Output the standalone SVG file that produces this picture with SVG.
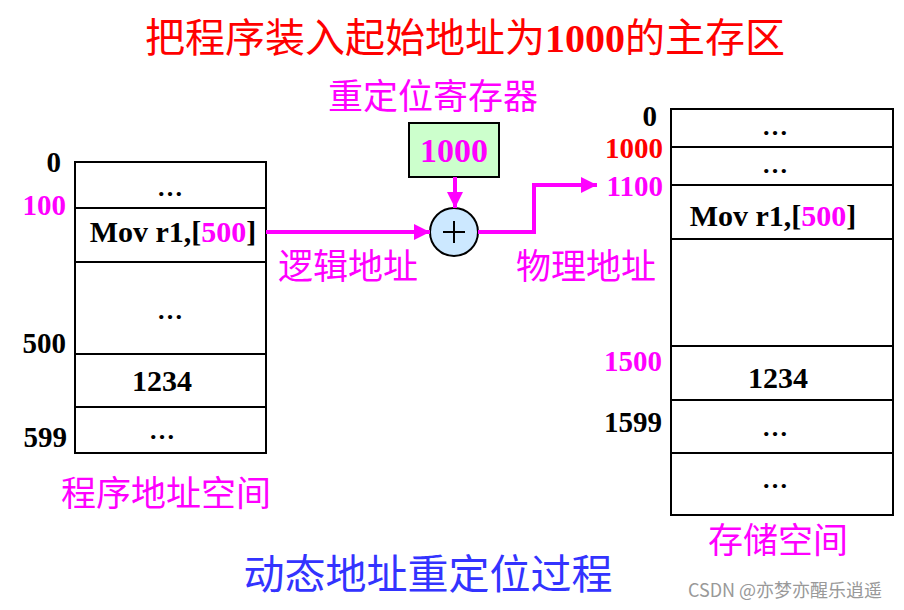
<svg xmlns="http://www.w3.org/2000/svg" width="904" height="610" viewBox="0 0 904 610">
<style>
.cjk{font-family:"Noto Sans CJK SC","Noto Sans CJK JP",sans-serif}
.num{font-family:"Liberation Serif","Times New Roman",serif;font-weight:bold}
.box{fill:#fff;stroke:#000;stroke-width:2}
.ln{stroke:#000;stroke-width:2}
.mg{fill:#ff00ff}
.blk{fill:#000}
.conn{fill:none;stroke:#ff00ff;stroke-width:4}
</style>
<defs>
<marker id="ah" viewBox="0 0 10 10" refX="10" refY="5" markerWidth="4" markerHeight="4" markerUnits="strokeWidth" orient="auto">
<path d="M0,0 L10,5 L0,10 z" fill="#ff00ff"/>
</marker>
</defs>
<rect width="904" height="610" fill="#fff"/>
<text x="465" y="52" text-anchor="middle" font-size="40" fill="#ff0000" class="cjk">把程序装入起始地址为<tspan class="num" font-size="40">1000</tspan>的主存区</text>

<g id="program-space">
<rect class="box" x="75" y="162" width="191" height="291"/>
<line class="ln" x1="75" y1="208" x2="266" y2="208"/>
<line class="ln" x1="75" y1="262" x2="266" y2="262"/>
<line class="ln" x1="75" y1="354" x2="266" y2="354"/>
<line class="ln" x1="75" y1="407" x2="266" y2="407"/>
<text class="num blk" x="170" y="196" text-anchor="middle" font-size="26">…</text>
<text class="num blk" x="173" y="242" text-anchor="middle" font-size="30">Mov r1,[<tspan class="mg">500</tspan>]</text>
<text class="num blk" x="170" y="319" text-anchor="middle" font-size="26">…</text>
<text class="num blk" x="162" y="391" text-anchor="middle" font-size="30">1234</text>
<text class="num blk" x="162" y="439" text-anchor="middle" font-size="26">…</text>
<text class="num blk" x="61" y="172" text-anchor="end" font-size="29">0</text>
<text class="num mg" x="66" y="215" text-anchor="end" font-size="29">100</text>
<text class="num blk" x="66" y="353" text-anchor="end" font-size="29">500</text>
<text class="num blk" x="67" y="447" text-anchor="end" font-size="29">599</text>
<text class="cjk mg" x="166" y="506" text-anchor="middle" font-size="35">程序地址空间</text>
</g>

<g id="relocation-register">
<text class="cjk mg" x="433" y="109" text-anchor="middle" font-size="35">重定位寄存器</text>
<rect x="409" y="123" width="90" height="54" fill="#ccffcc" stroke="#000" stroke-width="2"/>
<text class="num mg" x="454" y="162" text-anchor="middle" font-size="34">1000</text>
</g>

<g id="adder">
<circle cx="454" cy="232" r="24" fill="#cce8ff" stroke="#000" stroke-width="2"/>
<path d="M443,232 H465 M454,221 V243" stroke="#000" stroke-width="2"/>
</g>

<g id="connectors">
<line class="conn" x1="266" y1="232" x2="430" y2="232" marker-end="url(#ah)"/>
<line class="conn" x1="455" y1="177" x2="455" y2="208" marker-end="url(#ah)"/>
<polyline class="conn" points="478,232 534,232 534,185 597,185" marker-end="url(#ah)"/>
</g>

<text class="cjk mg" x="348" y="279" text-anchor="middle" font-size="35">逻辑地址</text>
<text class="cjk mg" x="586" y="279" text-anchor="middle" font-size="35">物理地址</text>

<g id="memory-space">
<rect class="box" x="671" y="109" width="222" height="406"/>
<line class="ln" x1="671" y1="147" x2="893" y2="147"/>
<line class="ln" x1="671" y1="185" x2="893" y2="185"/>
<line class="ln" x1="671" y1="239" x2="893" y2="239"/>
<line class="ln" x1="671" y1="346" x2="893" y2="346"/>
<line class="ln" x1="671" y1="400" x2="893" y2="400"/>
<line class="ln" x1="671" y1="453" x2="893" y2="453"/>
<text class="num blk" x="775" y="135" text-anchor="middle" font-size="26">…</text>
<text class="num blk" x="775" y="173" text-anchor="middle" font-size="26">…</text>
<text class="num blk" x="773" y="226" text-anchor="middle" font-size="30">Mov r1,[<tspan class="mg">500</tspan>]</text>
<text class="num blk" x="778" y="388" text-anchor="middle" font-size="30">1234</text>
<text class="num blk" x="775" y="436" text-anchor="middle" font-size="26">…</text>
<text class="num blk" x="775" y="488" text-anchor="middle" font-size="26">…</text>
<text class="num blk" x="657" y="126" text-anchor="end" font-size="29">0</text>
<text class="num" fill="#ff0000" x="663" y="158" text-anchor="end" font-size="29">1000</text>
<text class="num mg" x="663" y="196" text-anchor="end" font-size="29">1100</text>
<text class="num mg" x="662" y="371" text-anchor="end" font-size="29">1500</text>
<text class="num blk" x="662" y="432" text-anchor="end" font-size="29">1599</text>
<text class="cjk mg" x="778" y="553" text-anchor="middle" font-size="35">存储空间</text>
</g>

<text class="cjk" x="428" y="589" text-anchor="middle" font-size="41" fill="#3333ff">动态地址重定位过程</text>
<text x="785" y="597" text-anchor="middle" font-size="18" fill="#999" font-family="'Noto Sans CJK SC',sans-serif">CSDN @亦梦亦醒乐逍遥</text>
</svg>
